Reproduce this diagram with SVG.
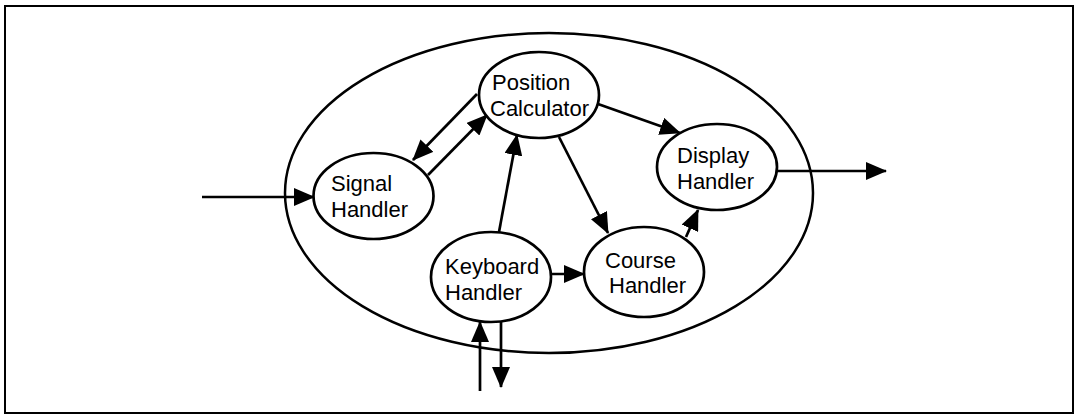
<svg xmlns="http://www.w3.org/2000/svg" width="1077" height="415" viewBox="0 0 1077 415">
<style>
.frame{fill:none;stroke:#000;stroke-width:2}
.node{fill:#fff;stroke:#000;stroke-width:2.7}
.outer{fill:none;stroke:#000;stroke-width:2.5}
.edge{stroke:#000;stroke-width:2.7;fill:none}
text{font-family:"Liberation Sans",Arial,sans-serif;font-size:22px;fill:#000}
</style>
<defs>
<marker id="ah" markerUnits="userSpaceOnUse" markerWidth="21" markerHeight="18" refX="20" refY="9" orient="auto">
<path d="M0,0 L21,9 L0,18 z" fill="#000"/>
</marker>
</defs>
<rect class="frame" x="5" y="6" width="1068" height="407"/>
<ellipse id="system" class="outer" cx="549" cy="193" rx="264" ry="160"/>
<g id="connectors">
<line class="edge" x1="202" y1="197" x2="314" y2="197" marker-end="url(#ah)"/>
<line class="edge" x1="477" y1="94" x2="413" y2="160" marker-end="url(#ah)"/>
<line class="edge" x1="428" y1="175" x2="487" y2="115" marker-end="url(#ah)"/>
<line class="edge" x1="499" y1="232" x2="517" y2="135" marker-end="url(#ah)"/>
<line class="edge" x1="559" y1="137" x2="608" y2="233" marker-end="url(#ah)"/>
<line class="edge" x1="598" y1="104" x2="680" y2="133" marker-end="url(#ah)"/>
<line class="edge" x1="686" y1="237" x2="698" y2="210" marker-end="url(#ah)"/>
<line class="edge" x1="551" y1="274" x2="584" y2="274" marker-end="url(#ah)"/>
<line class="edge" x1="777" y1="171" x2="886" y2="171" marker-end="url(#ah)"/>
<line class="edge" x1="480" y1="391" x2="480" y2="322" marker-end="url(#ah)"/>
<line class="edge" x1="501" y1="322" x2="501" y2="387" marker-end="url(#ah)"/>
</g>
<g id="position-calculator">
<ellipse class="node" cx="539" cy="95" rx="60" ry="43"/>
<text x="492" y="90">Position</text>
<text x="490" y="116">Calculator</text>
</g>
<g id="display-handler">
<ellipse class="node" cx="717" cy="167" rx="60" ry="43"/>
<text x="677" y="163">Display</text>
<text x="677" y="189">Handler</text>
</g>
<g id="signal-handler">
<ellipse class="node" cx="373.5" cy="196" rx="60" ry="43"/>
<text x="331" y="191">Signal</text>
<text x="331" y="217">Handler</text>
</g>
<g id="keyboard-handler">
<ellipse class="node" cx="491" cy="277" rx="60" ry="45"/>
<text x="445" y="274">Keyboard</text>
<text x="445" y="300">Handler</text>
</g>
<g id="course-handler">
<ellipse class="node" cx="644" cy="272" rx="60" ry="45"/>
<text x="605" y="268">Course</text>
<text x="609" y="293">Handler</text>
</g>
</svg>
